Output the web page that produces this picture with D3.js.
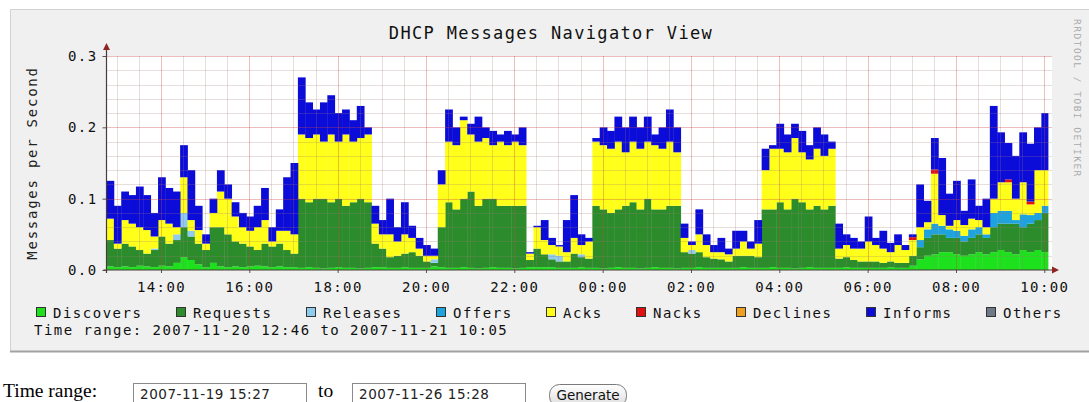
<!DOCTYPE html>
<html>
<head>
<meta charset="utf-8">
<script src="https://cdn.jsdelivr.net/npm/d3@7"></script>
<style>
body { margin: 0; background: #fff; }
svg { display: block; }
</style>
</head>
<body>
<svg id="chart" width="1089" height="402"></svg>
<script>
// chart texts
const title = "DHCP Messages Navigator View"
const yLabel = "Messages per Second"
const rangeText = "Time range: 2007-11-20 12:46 to 2007-11-21 10:05"
const formFrom = "2007-11-19 15:27"
const formTo = "2007-11-26 15:28"

// time window of the graph, 10 minute bins
const startTime = new Date(2007, 10, 20, 12, 46)
const endTime = new Date(2007, 10, 21, 10, 5)
const stepMinutes = 10

// messages per second, one value per bin
const discovers = [
  .005,.004,.005,.004,.006,.005,.004,.006,.005,.01,.018,.014,.008,.004,.01,.005,.004,.005,.004,.005,.006,.005,.004,.005,.004,.004,
  .003,.004,.003,.002,.003,.004,.003,.003,.002,.003,
  .004,.004,.003,.003,.004,.003,.003,.003,.005,.004,
  .003,.003,.004,.003,.002,.003,.004,.003,.003,.002,.003,
  .004,.004,.004,.004,.003,.003,.003,.004,.003,
  .003,.002,.003,.004,.003,.003,.002,.003,.004,.003,.003,.002,
  .003,.003,.004,.003,.003,.003,.003,.003,.004,.003,.003,
  .003,.004,.003,.003,.002,.003,.004,.003,.003,.003,
  .003,.004,.003,.003,.003,.003,.003,.004,.003,.003,.006,
  .015,.02,.022,.025,.025,.022,.02,.022,.025,.022,.025,.028,.025,.022,.028,.025,.028,.025
]
const requests = [
  .037,.026,.032,.029,.022,.018,.024,.041,.032,.032,.042,.033,.029,.024,.05,.055,.046,.035,.033,.028,.022,.032,.029,.032,.024,.019,
  .097,.091,.097,.098,.092,.096,.087,.092,.098,.092,
  .033,.026,.015,.017,.019,.022,.017,.009,.005,.056,
  .092,.082,.096,.107,.088,.097,.096,.087,.087,.088,.087,
  .01,.026,.018,.011,.009,.009,.02,.014,.013,
  .087,.083,.077,.081,.087,.092,.083,.097,.081,.082,.087,.088,
  .022,.02,.021,.015,.013,.012,.009,.017,.016,.017,.015,
  .082,.081,.092,.082,.098,.092,.081,.087,.082,.087,
  .013,.014,.011,.009,.009,.009,.007,.008,.007,.007,.014,
  .017,.025,.028,.025,.02,.023,.02,.023,.025,.023,.035,.037,.04,.043,.032,.04,.042,.055
]
const releases = [
  0,0,0,0,0,0,.002,0,0,.008,.02,.008,0,0,0,0,0,0,0,0,0,0,0,0,0,0,
  0,0,0,0,0,0,0,0,0,0,
  0,0,0,0,0,0,0,0,.005,0,
  0,0,0,0,0,0,0,0,0,0,0,
  0,0,0,.007,.008,0,0,.004,0,
  0,0,0,0,0,0,0,0,0,0,0,0,
  0,.005,0,0,0,0,0,0,0,0,0,
  0,0,0,0,0,0,0,0,0,0,
  0,0,0,0,0,0,0,0,0,0,0,
  0,0,0,0,0,0,0,0,0,0,0,0,0,0,0,0,0,0
]
const offers = [
  0,0,0,0,0,0,0,0,0,0,0,0,0,0,0,0,0,0,0,0,0,0,0,0,0,0,
  0,0,0,0,0,0,0,0,0,0,
  0,0,0,0,0,0,0,0,0,0,
  0,0,0,0,0,0,0,0,0,0,0,
  0,0,0,0,0,0,0,0,0,
  0,0,0,0,0,0,0,0,0,0,0,0,
  0,0,0,0,0,0,0,0,0,0,0,
  0,0,0,0,0,0,0,0,0,0,
  0,0,0,0,0,0,0,0,0,0,0,
  .01,.012,.015,.012,.012,.01,.008,.012,.01,.005,.02,.018,.018,.005,.018,.012,.01,.01
]
const acks = [
  .03,.007,.033,.032,.032,.033,.017,.023,.028,.01,.05,.015,.019,.009,.02,.05,.05,.035,.023,.022,.032,.033,.007,.018,.027,.027,
  .09,.09,.09,.08,.095,.08,.1,.085,.085,.095,
  .028,.02,.032,.02,.027,.02,.01,.008,.005,.06,
  .085,.09,.11,.08,.09,.085,.075,.09,.085,.09,.085,
  .009,.03,.02,.013,.013,.013,.022,.013,.024,
  .09,.09,.09,.095,.075,.085,.085,.08,.09,.085,.09,.075,
  .02,.007,.025,.017,.009,.01,.01,.01,.02,.01,.019,
  .055,.085,.075,.08,.085,.07,.07,.08,.075,.08,
  .014,.017,.016,.018,.028,.023,.02,.013,.025,.018,.022,
  .018,.01,.07,.015,.005,.015,.015,.015,.01,.01,.02,.04,.04,.03,.045,.015,.06,.05
]
const nacks = [
  0,0,0,0,0,0,0,0,0,0,0,0,0,0,0,0,0,0,0,0,0,0,0,0,0,0,
  0,0,0,0,0,0,0,0,0,0,
  0,0,0,0,0,0,0,0,0,0,
  0,0,0,0,0,0,0,0,0,0,0,
  0,0,0,0,0,0,0,0,0,
  0,0,0,0,0,0,0,0,0,0,0,0,
  0,0,0,0,0,0,0,0,0,0,0,
  0,0,0,0,0,0,0,0,0,0,
  0,0,0,0,0,0,0,0,0,0,.004,
  0,0,.006,0,0,0,0,0,0,0,0,0,.004,0,0,.004,0,0
]
const declines = []
const informs = [
  .053,.053,.04,.04,.057,.049,.033,.06,.05,.05,.045,.07,.034,.013,.02,.03,.02,.02,.02,.02,.03,.045,.02,.03,.075,.1,
  .08,.05,.035,.055,.055,.04,.035,.03,.045,.01,
  .025,.02,.05,.02,.045,.017,.015,.015,.01,.02,
  .045,.025,.005,.015,.035,.015,.02,.01,.02,.01,.025,
  .002,.002,.028,.01,.002,.045,.06,.015,.005,
  .005,.025,.025,.035,.035,.035,.03,.035,.015,.03,.045,.035,
  .02,.005,.035,.015,.01,.02,.008,.025,.015,.01,.033,
  .03,.005,.035,.025,.02,.03,.02,.03,.03,.01,
  .035,.015,.015,.01,.035,.01,.025,.013,.015,.007,.004,
  .06,.03,.044,.08,.045,.055,.02,.055,.02,.04,.13,.07,.051,.06,.07,.081,.06,.08
]
const others = []

const seriesNames = ["Discovers", "Requests", "Releases", "Offers", "Acks", "Nacks", "Declines", "Informs", "Others"]
const seriesData = [discovers, requests, releases, offers, acks, nacks, declines, informs, others]
const seriesColors = ["#1ee11e", "#2c8c2c", "#8fcbef", "#1ea3de", "#ffff1a", "#e01010", "#f0a020", "#0c0cd8", "#6e7b86"]

const lens = seriesData.filter(a => a.length).map(a => a.length)
if (lens.some(l => l !== discovers.length)) throw new Error("length mismatch " + lens.join(","))

const svg = d3.select("#chart")
const MONO = "'DejaVu Sans Mono', monospace"

const x = d3.scaleTime().domain([startTime, endTime]).range([106.5, 1048])
const y = d3.scaleLinear().domain([0, 0.3]).range([270, 56])
const canvasRight = 1052

// grey panel
svg.append("rect").attr("x", 10).attr("y", 9).attr("width", 1085).attr("height", 343).attr("fill", "#f0f0f0")
svg.append("path").attr("d", "M10.5,352 V9.5 H1089").attr("fill", "none").attr("stroke", "#d2d2d2").attr("stroke-width", 1)
svg.append("path").attr("d", "M10,351.5 H1089").attr("fill", "none").attr("stroke", "#a2a2a2").attr("stroke-width", 2)

// canvas
svg.append("rect")
    .attr("x", x.range()[0]).attr("y", y(0.3))
    .attr("width", canvasRight - x.range()[0]).attr("height", y(0) - y(0.3))
    .attr("fill", "#fff")

// stacked bars
const rows = discovers.map((_d, i) => {
    const r = { time: d3.timeMinute.offset(startTime, i * stepMinutes) }
    seriesNames.forEach((k, j) => { r[k] = seriesData[j][i] || 0 })
    return r
})
const layers = d3.stack().keys(seriesNames)(rows)

const binEnd = t => Math.min(+endTime, +d3.timeMinute.offset(t, stepMinutes))

svg.append("g").attr("id", "bars")
    .selectAll("g")
    .data(layers)
    .join("g")
    .attr("fill", (_d, i) => seriesColors[i])
    .selectAll("rect")
    .data(d => d.filter(p => p[1] - p[0] > 0))
    .join("rect")
    .attr("x", d => x(d.data.time))
    .attr("width", d => x(binEnd(d.data.time)) - x(d.data.time) + 0.4)
    .attr("y", d => y(d[1]))
    .attr("height", d => y(d[0]) - y(d[1]))

// grid on top, like rrdtool
const grid = svg.append("g").attr("id", "grid").attr("shape-rendering", "crispEdges")
const majorX = x.ticks(d3.timeHour.every(2))
const minorX = x.ticks(d3.timeMinute.every(30)).filter(t => !majorX.some(m => +m === +t))
const majorY = y.ticks(3)
const minorY = y.ticks(15).filter(v => !majorY.some(m => Math.abs(m - v) < 1e-9))

grid.selectAll(".vminor").data(minorX).join("line").attr("class", "vminor")
    .attr("x1", d => Math.round(x(d)) + 0.5).attr("x2", d => Math.round(x(d)) + 0.5)
    .attr("y1", y(0.3)).attr("y2", y(0))
    .attr("stroke", "rgba(160,120,120,0.25)")
grid.selectAll(".hminor").data(minorY).join("line").attr("class", "hminor")
    .attr("x1", x.range()[0]).attr("x2", canvasRight)
    .attr("y1", d => Math.round(y(d)) + 0.5).attr("y2", d => Math.round(y(d)) + 0.5)
    .attr("stroke", "rgba(160,120,120,0.25)")
grid.selectAll(".vmajor").data(majorX).join("line").attr("class", "vmajor")
    .attr("x1", d => Math.round(x(d)) + 0.5).attr("x2", d => Math.round(x(d)) + 0.5)
    .attr("y1", y(0.3)).attr("y2", y(0))
    .attr("stroke", "rgba(200,70,70,0.35)")
grid.selectAll(".hmajor").data(majorY.filter(v => v > 0)).join("line").attr("class", "hmajor")
    .attr("x1", x.range()[0]).attr("x2", canvasRight)
    .attr("y1", d => Math.round(y(d)) + 0.5).attr("y2", d => Math.round(y(d)) + 0.5)
    .attr("stroke", "rgba(200,70,70,0.35)")

// axes
const yAxis = svg.append("g")
    .attr("transform", `translate(${x.range()[0]},0)`)
    .call(d3.axisLeft(y).tickValues(majorY).tickFormat(d3.format(".1f")).tickSize(4).tickPadding(5))
const xAxis = svg.append("g")
    .attr("transform", `translate(0,${y(0)})`)
    .call(d3.axisBottom(x).tickValues(majorX).tickFormat(d3.timeFormat("%H:%M")).tickSize(3).tickPadding(9))
;[yAxis, xAxis].forEach(a => {
    a.select(".domain").remove()
    a.selectAll(".tick line").attr("stroke", "#555")
    a.selectAll("text").attr("font-family", MONO).attr("font-size", 14)
        .attr("letter-spacing", 1.4).attr("fill", "#111")
})

const axisColor = "#4a3b3b"
const arrowColor = "#8e2424"
svg.append("line").attr("x1", x.range()[0]).attr("x2", x.range()[0]).attr("y1", y(0) + 3).attr("y2", 50)
    .attr("stroke", axisColor).attr("stroke-width", 1.2)
svg.append("line").attr("x1", x.range()[0] - 3).attr("x2", 1053).attr("y1", y(0)).attr("y2", y(0))
    .attr("stroke", axisColor).attr("stroke-width", 1.2)
svg.append("path")
    .attr("d", `M${x.range()[0] - 3.5},50 L${x.range()[0]},43 L${x.range()[0] + 3.5},50 Z`)
    .attr("fill", arrowColor)
svg.append("path")
    .attr("d", `M1052,${y(0) - 3.5} L1059,${y(0)} L1052,${y(0) + 3.5} Z`)
    .attr("fill", arrowColor)

// title and y label
svg.append("text").text(title)
    .attr("x", 551).attr("y", 39).attr("text-anchor", "middle")
    .attr("font-family", MONO).attr("font-size", 17).attr("letter-spacing", 1.35).attr("fill", "#111")

svg.append("text").text(yLabel)
    .attr("transform", "translate(37,163) rotate(-90)")
    .attr("text-anchor", "middle")
    .attr("font-family", MONO).attr("font-size", 14).attr("letter-spacing", 1.75).attr("fill", "#222")

// watermark
svg.append("text").text("RRDTOOL / TOBI OETIKER")
    .attr("transform", "translate(1074,19) rotate(90)")
    .attr("font-family", MONO).attr("font-size", 9.5).attr("letter-spacing", 1.5).attr("fill", "#a8a8a8")

// legend
const legendX = []
seriesNames.reduce((acc, name) => { legendX.push(acc); return acc + 50 + 10 * name.length }, 36)

const legend = svg.append("g").selectAll("g")
    .data(seriesNames)
    .join("g")
    .attr("transform", (_d, i) => `translate(${legendX[i]},307)`)
legend.append("rect")
    .attr("x", 0.5).attr("y", 0.5).attr("width", 9).attr("height", 9)
    .attr("fill", (_d, i) => seriesColors[i])
    .attr("stroke", "#333").attr("stroke-width", 1)
legend.append("text").text(d => d)
    .attr("x", 17).attr("y", 10.5)
    .attr("font-family", MONO).attr("font-size", 14).attr("letter-spacing", 1.5).attr("fill", "#111")

svg.append("text").text(rangeText)
    .attr("x", 34).attr("y", 335)
    .attr("font-family", MONO).attr("font-size", 14).attr("letter-spacing", 1.45).attr("fill", "#111")

// form below the graph
const SERIF = "'Liberation Serif', 'Times New Roman', serif"
const SANS = "'DejaVu Sans', Arial, sans-serif"
svg.append("text").text("Time range:")
    .attr("x", 3).attr("y", 397).attr("font-family", SERIF).attr("font-size", 19.5).attr("fill", "#000")
svg.append("text").text("to")
    .attr("x", 318).attr("y", 397).attr("font-family", SERIF).attr("font-size", 19.5).attr("fill", "#000")

const inputs = [{ x: 133, v: formFrom }, { x: 352, v: formTo }]
const inp = svg.append("g").selectAll("g").data(inputs).join("g")
    .attr("transform", d => `translate(${d.x},383)`)
inp.append("rect").attr("x", 0.5).attr("y", 0.5).attr("width", 173).attr("height", 24)
    .attr("fill", "#fff").attr("stroke", "#8a8a8a")
inp.append("text").text(d => d.v)
    .attr("x", 7).attr("y", 15.5).attr("font-family", SANS).attr("font-size", 13.5)
    .attr("letter-spacing", 0.55).attr("fill", "#222")

const btn = svg.append("g").attr("transform", "translate(549,384)")
const grad = svg.append("defs").append("linearGradient").attr("id", "btnGrad")
    .attr("x1", 0).attr("y1", 0).attr("x2", 0).attr("y2", 1)
grad.append("stop").attr("offset", 0).attr("stop-color", "#ffffff")
grad.append("stop").attr("offset", 1).attr("stop-color", "#dcdcdc")
btn.append("rect").attr("x", 0.5).attr("y", 0.5).attr("width", 77).attr("height", 22).attr("rx", 10)
    .attr("fill", "url(#btnGrad)").attr("stroke", "#7a7a7a")
btn.append("text").text("Generate")
    .attr("x", 39).attr("y", 15.5).attr("text-anchor", "middle")
    .attr("font-family", SANS).attr("font-size", 13.5).attr("fill", "#111")
</script>
</body>
</html>
